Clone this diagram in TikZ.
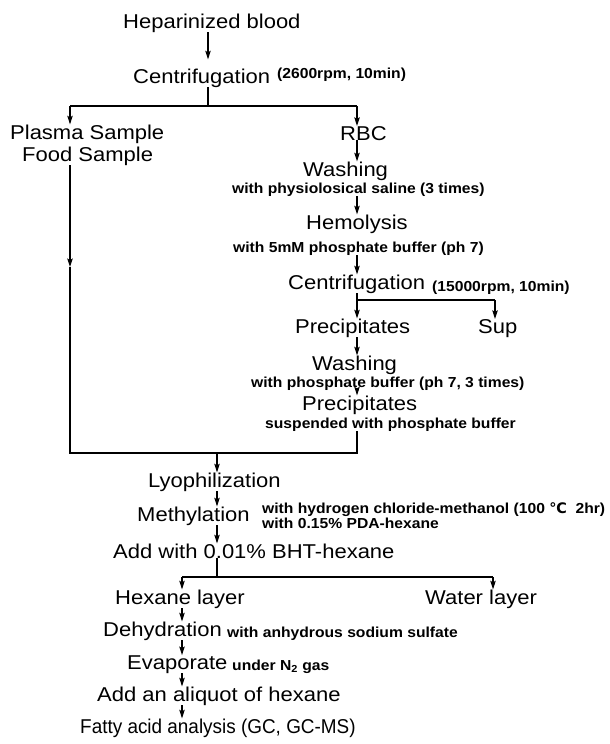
\documentclass[tikz,border=0pt]{standalone}
\usepackage{fontspec}
\setmainfont{Liberation Sans}
\newfontfamily\bigf{Liberation Sans}[FakeStretch=1.1]
\newfontfamily\smf{Liberation Sans}[FakeStretch=1.08]
\newfontfamily\djv{DejaVu Sans}
\usetikzlibrary{arrows.meta}
\begin{document}
\begin{tikzpicture}[x=1pt,y=-1pt,
  big/.style={inner sep=0pt, anchor=base west, font={\bigf\fontsize{20}{24}\selectfont}},
  sm/.style={inner sep=0pt, anchor=base west, font={\smf\bfseries\fontsize{14.5}{16}\selectfont}},
  ln/.style={line width=1.1pt},
  arr/.style={ln, -{Stealth[length=8.5pt,width=5.5pt,inset=1.5pt]}}]
\useasboundingbox (0,0) rectangle (610,744);
% text nodes
\node[big] (hep) at (123,28) {Heparinized blood};
\node[big] (cen1) at (133,83) {Centrifugation};
\node[sm] (cen1n) at (277,78) {(2600rpm, 10min)};
\node[big] (plasma) at (10,139) {Plasma Sample};
\node[big] (food) at (22,161) {Food Sample};
\node[big] (rbc) at (340,140) {RBC};
\node[big] (wash1) at (303,176) {Washing};
\node[sm] (wash1n) at (232,193) {with physiolosical saline (3 times)};
\node[big] (hemo) at (306,229) {Hemolysis};
\node[sm] (hemon) at (233,252) {with 5mM phosphate buffer (ph 7)};
\node[big] (cen2) at (288,289) {Centrifugation};
\node[sm] (cen2n) at (432,291) {(15000rpm, 10min)};
\node[big] (prec1) at (295,333) {Precipitates};
\node[big] (sup) at (478,333) {Sup};
\node[big] (wash2) at (312,370) {Washing};
\node[sm] (wash2n) at (251,387) {with phosphate buffer (ph 7, 3 times)};
\node[big] (prec2) at (302,410) {Precipitates};
\node[sm] (prec2n) at (265,428) {suspended with phosphate buffer};
\node[big] (lyo) at (148,487) {Lyophilization};
\node[big] (meth) at (137,521) {Methylation};
\node[sm] (methn1) at (262,513) {with hydrogen chloride-methanol (100 {\djv\bfseries ℃}\ \ 2hr)};
\node[sm] (methn2) at (262,528) {with 0.15\% PDA-hexane};
\node[big] (add1) at (113,558) {Add with 0.01\% BHT-hexane};
\node[big] (hex) at (115,604) {Hexane layer};
\node[big] (water) at (425,604) {Water layer};
\node[big] (dehy) at (103,636) {Dehydration};
\node[sm] (dehyn) at (227,637) {with anhydrous sodium sulfate};
\node[big] (evap) at (127,669) {Evaporate};
\node[sm] (evapn) at (232,670) {under N\textsubscript{2} gas};
\node[big] (ali) at (97,701) {Add an aliquot of hexane};
\node[big] (fatty) at (80,733) {\scalebox{0.86}[1]{Fatty acid analysis (GC, GC-MS)}};
% junctions / columns
\coordinate (cA) at (208,0);
\coordinate (cR) at (357,0);
\coordinate (cM) at (217,0);
\coordinate (cH) at (182,0);
\coordinate (j1) at (208,106);
\coordinate (j1L) at (70,106);
\coordinate (j1R) at (357,106);
\coordinate (j2) at (357,300);
\coordinate (j2R) at (495,300);
\coordinate (midL) at (70,267);
\coordinate (j3L) at (70,453);
\coordinate (j3R) at (357,453);
\coordinate (j3M) at (217,453);
\coordinate (j4) at (217,577);
\coordinate (j4L) at (182,577);
\coordinate (j4R) at (493,577);
% connectors
\draw[arr, shorten >=9pt] (hep.south -| cA) -- (cen1.north -| cA);
\draw[ln] (cen1.south -| cA) -- (j1);
\draw[ln] (j1L) -- (j1R);
\draw[arr] (j1L) -- (plasma.north -| j1L);
\draw[arr] (j1R) -- (rbc.north -| j1R);
\draw[arr] (rbc.south -| cR) -- (wash1.north -| cR);
\draw[arr] (wash1n.south -| cR) -- (hemo.north -| cR);
\draw[arr] (hemon.south -| cR) -- (cen2.north -| cR);
\draw[ln] (cen2.south -| cR) -- (j2);
\draw[ln] (j2) -- (j2R);
\draw[arr] (j2) -- (prec1.north -| j2);
\draw[arr] (j2R) -- (sup.north -| j2R);
\draw[arr] (prec1.south -| cR) -- (wash2.north -| cR);
\draw[arr] (wash2n.south -| cR) -- (prec2.north -| cR);
\draw[arr] (food.south -| j3L) -- (midL);
\draw[ln] (midL) -- (j3L) -- (j3R) -- (prec2n.south -| j3R);
\draw[arr] (j3M) -- (lyo.north -| j3M);
\draw[arr] (lyo.south -| cM) -- (meth.north -| cM);
\draw[arr] (meth.south -| cM) -- (add1.north -| cM);
\draw[ln] (add1.south -| cM) -- (j4);
\draw[ln] (j4L) -- (j4R);
\draw[arr] (j4L) -- (hex.north -| j4L);
\draw[arr] (j4R) -- (water.north -| j4R);
\draw[arr] (hex.south -| cH) -- (dehy.north -| cH);
\draw[arr] (dehy.south -| cH) -- (evap.north -| cH);
\draw[arr] (evap.south -| cH) -- (ali.north -| cH);
\draw[arr] (ali.south -| cH) -- (fatty.north -| cH);
\end{tikzpicture}
\end{document}
